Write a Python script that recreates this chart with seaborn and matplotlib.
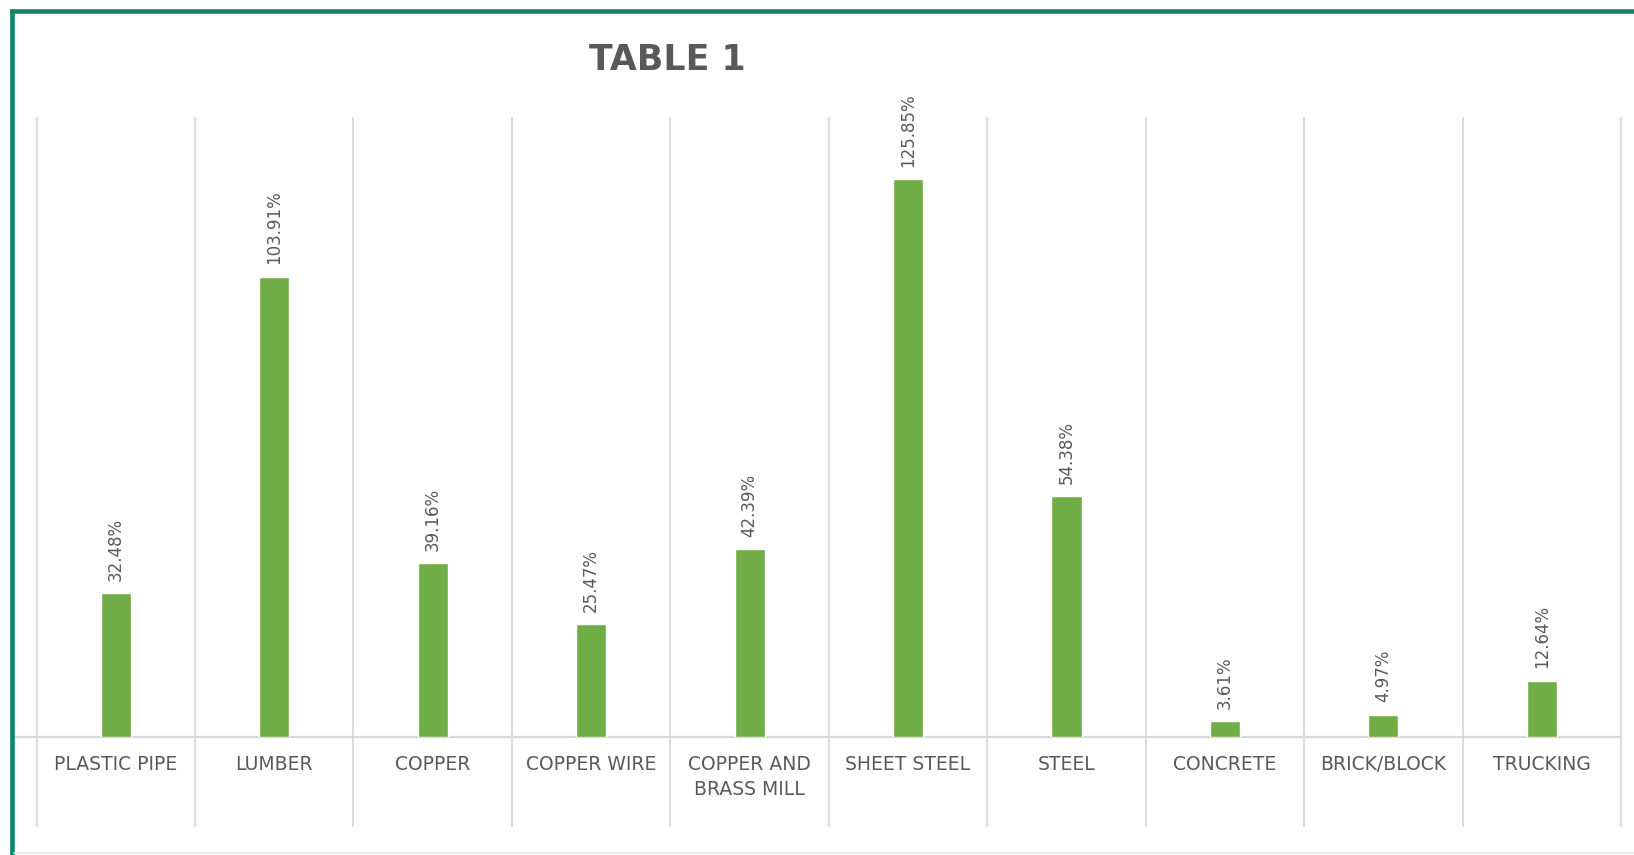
import numpy as np
import pandas as pd
import matplotlib
matplotlib.use('Agg')
import matplotlib.pyplot as plt
from matplotlib.lines import Line2D
import seaborn as sns

# ============================================================
# DATA
# ============================================================
categories = ['PLASTIC PIPE', 'LUMBER', 'COPPER', 'COPPER WIRE',
              'COPPER AND BRASS MILL', 'SHEET STEEL', 'STEEL',
              'CONCRETE', 'BRICK/BLOCK', 'TRUCKING']
tick_labels = ['PLASTIC PIPE', 'LUMBER', 'COPPER', 'COPPER WIRE',
               'COPPER AND\nBRASS MILL', 'SHEET STEEL', 'STEEL',
               'CONCRETE', 'BRICK/BLOCK', 'TRUCKING']
pct_change = [32.48, 103.91, 39.16, 25.47, 42.39, 125.85, 54.38, 3.61, 4.97, 12.64]

green = '#70ad47'
grey_txt = '#595959'
grid_c = '#d9d9d9'
frame_c = '#0f8466'

W, H = 1634, 855

def fx(px):
    return px / W

def fy(py):
    return 1 - py / H

# ============================================================
# PLOT
# ============================================================
sns.set_style('white')
plt.rcParams['font.family'] = ['DejaVu Sans']

fig = plt.figure(figsize=(W / 100, H / 100), dpi=100)
fig.patch.set_facecolor('white')

# axes box in pixel terms: left 14, right 1621, top 116.7, baseline 737
ax = fig.add_axes([fx(14), fy(737), fx(1621) - fx(14), fy(116.7) - fy(737)])
df = pd.DataFrame({'cat': categories, 'val': pct_change})

sns.barplot(data=df, x='cat', y='val', color=green, saturation=1,
            width=0.19, ax=ax, zorder=3)

ax.set_xlim(-0.5 - (36.6 - 14) / 158.4, 9.5)
ax.set_ylim(0, 140)

# category separators, running down through the label area
ax.vlines(np.arange(-0.5, 10, 1), ymin=-20.3, ymax=140, colors=grid_c,
          lw=1.3, clip_on=False, zorder=1)

for c in ax.containers:
    ax.bar_label(c, labels=[f'{v:.2f}%' for v in pct_change], rotation=90,
                 padding=9, fontsize=12, color=grey_txt)

ax.set_xticks(range(len(categories)))
ax.set_xticklabels(tick_labels, fontsize=13.5, color=grey_txt, linespacing=1.42)
ax.tick_params(axis='x', length=0, pad=13)
ax.set_yticks([])
ax.set_xlabel('')
ax.set_ylabel('')
for side in ['top', 'left', 'right']:
    ax.spines[side].set_visible(False)
ax.spines['bottom'].set_color(grid_c)
ax.spines['bottom'].set_linewidth(1.6)
ax.set_facecolor('white')

fig.text(fx(667), fy(60.5), 'TABLE 1', fontsize=25, fontweight='bold',
         color=grey_txt, ha='center', va='center')

# chart frame (left and top edges in green, faint bottom line)
fig.add_artist(Line2D([fx(11.5), fx(11.5)], [fy(10.8), 0], color=frame_c,
                      lw=3.3, transform=fig.transFigure, solid_capstyle='projecting'))
fig.add_artist(Line2D([fx(11.5), 1], [fy(10.8), fy(10.8)], color=frame_c,
                      lw=3.3, transform=fig.transFigure, solid_capstyle='projecting'))
fig.add_artist(Line2D([fx(14), 1], [fy(853), fy(853)], color='#e8e8e8',
                      lw=1.2, transform=fig.transFigure))

fig.savefig('out.png', dpi=100)
